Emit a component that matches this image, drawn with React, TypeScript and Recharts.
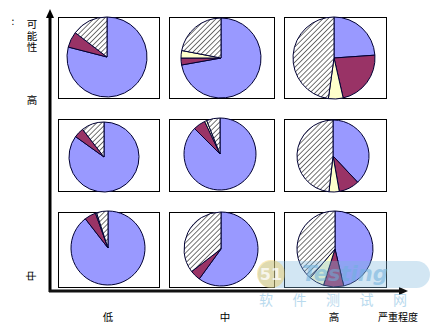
import React from 'react';
import { PieChart, Pie, Cell } from 'recharts';

// Segment names (legend not shown in the reference)
const segments = ['A', 'B', 'C', 'D'];
const segmentColors = ['#9999FF', '#993366', '#FFFFCC', 'url(#hatch)'];

// Axis labels
const severityLabels = ['低', '中', '高'];
const severityTitle = '严重程度';
const likelihoodTitle = '可能性';
const likelihoodLabels = ['高', '中'];
const watermarkText = '软件测试网';
const watermarkLogo = 'Testing';

// Values per cell (percent), order: blue, maroon, yellow, hatched
const rowTopLow = [79.0, 6.4, 0, 14.6];
const rowTopMid = [72.2, 2.8, 3.0, 22.0];
const rowTopHigh = [23.9, 22.5, 5.8, 47.8];
const rowMidLow = [84.9, 4.6, 0, 10.5];
const rowMidMid = [87.5, 5.5, 1.0, 6.0];
const rowMidHigh = [38.0, 9.2, 4.6, 48.2];
const rowBotLow = [89.5, 5.0, 0.5, 5.0];
const rowBotMid = [60.0, 4.6, 0, 35.4];
const rowBotHigh = [46.3, 8.6, 6.4, 38.7];

const cells = [
  rowTopLow, rowTopMid, rowTopHigh,
  rowMidLow, rowMidMid, rowMidHigh,
  rowBotLow, rowBotMid, rowBotHigh,
];

// layout (styles)
const boxCols = [
  [58, 159],
  [169, 274],
  [284, 386],
];
const boxRows = [
  [17, 98],
  [119, 191],
  [212, 287],
];
const pieGeom = [
  [107, 57, 40], [221, 58, 40], [334, 58, 41],
  [104, 157, 35], [220, 154, 36], [333, 156, 36],
  [108, 248, 37], [221, 249, 37], [335, 249, 38],
];

const W = 439;
const H = 327;
const font = '"Noto Sans CJK SC", sans-serif';

function Background() {
  return (
    <svg width={W} height={H} style={{ position: 'absolute', left: 0, top: 0 }}>
      <defs>
        <pattern id="hatch" patternUnits="userSpaceOnUse" width="3.6" height="3.6" patternTransform="rotate(45)">
          <rect width="3.6" height="3.6" fill="#ffffff" />
          <line x1="0" y1="0" x2="0" y2="3.6" stroke="#000" strokeWidth="1.1" />
        </pattern>
      </defs>
      <rect x={0} y={0} width={W} height={H} fill="#fff" />
      {boxRows.map(([y0, y1], ri) =>
        boxCols.map(([x0, x1], ci) => (
          <rect key={`${ri}-${ci}`} x={x0 + 0.5} y={y0 + 0.5} width={x1 - x0} height={y1 - y0} fill="#fff" stroke="#000" strokeWidth={1} />
        ))
      )}
      {/* axes */}
      <line x1={50} y1={16} x2={50} y2={292} stroke="#000" strokeWidth={3} />
      <polygon points="50,9 46,18 54,18" fill="#000" />
      <line x1={49} y1={291} x2={400} y2={291} stroke="#111" strokeWidth={3} />
      <polygon points="408,291 399,287 399,295" fill="#111" />
      {/* y labels */}
      <text x={13} y={25} fontSize={10} fontFamily={font} textAnchor="middle">:</text>
      <text x={32} y={19} fontSize={10.5} fontFamily={font} fill="#000"
        style={{ writingMode: 'vertical-rl', letterSpacing: 1 }}>{likelihoodTitle}</text>
      <text x={32} y={104} fontSize={10.5} fontFamily={font} textAnchor="middle">{likelihoodLabels[0]}</text>
      <text x={0} y={0} fontSize={10.5} fontFamily={font} textAnchor="middle" transform="translate(35,276) rotate(-90)">{likelihoodLabels[1]}</text>
      {/* x labels */}
      <text x={108} y={321} fontSize={10.5} fontFamily={font} textAnchor="middle">{severityLabels[0]}</text>
      <text x={225} y={321} fontSize={10.5} fontFamily={font} textAnchor="middle">{severityLabels[1]}</text>
      <text x={334} y={321} fontSize={10.5} fontFamily={font} textAnchor="middle">{severityLabels[2]}</text>
      <text x={398} y={321} fontSize={10} fontFamily={font} textAnchor="middle">{severityTitle}</text>
    </svg>
  );
}

function Watermark() {
  return (
    <svg width={W} height={H} style={{ position: 'absolute', left: 0, top: 0, pointerEvents: 'none' }}>
      <rect x={258} y={261} width={172} height={27} rx={13.5} fill="#7fb8dc" opacity={0.35} />
      <circle cx={271} cy={274} r={14} fill="#f2c94c" opacity={0.4} />
      <text x={271} y={280} fontSize={16} fontWeight="bold" fill="#fff" opacity={0.75} textAnchor="middle" fontFamily="DejaVu Sans">51</text>
      <text x={345} y={281} fontSize={21} fontWeight="bold" fontStyle="italic" fill="#6fb0dc" opacity={0.55} textAnchor="middle" fontFamily="DejaVu Sans">{watermarkLogo}</text>
      <text x={259} y={305} fontSize={14} fill="#8cc3e4" opacity={0.6} fontFamily={font} style={{ letterSpacing: 19.5 }}>{watermarkText}</text>
    </svg>
  );
}

export default function App() {
  return (
    <div style={{ position: 'absolute', left: 0, top: 0, width: W, height: H, background: '#fff' }}>
      <Background />
      <div style={{ position: 'absolute', left: 0, top: 0 }}>
        <PieChart width={W} height={H} margin={{ top: 0, right: 0, bottom: 0, left: 0 }}>
          {cells.map((vals, i) => {
            const data = vals
              .map((v, k) => ({ name: segments[k], value: v, fill: segmentColors[k] }))
              .filter((d) => d.value > 0);
            const [cx, cy, r] = pieGeom[i];
            return (
              <Pie
                key={i}
                data={data}
                dataKey="value"
                nameKey="name"
                cx={cx}
                cy={cy}
                outerRadius={r}
                innerRadius={0}
                startAngle={90}
                endAngle={-270}
                stroke="#000033"
                strokeWidth={1}
                isAnimationActive={false}
                labelLine={false}
                label={false}
              >
                {data.map((d, k) => (
                  <Cell key={k} fill={d.fill} />
                ))}
              </Pie>
            );
          })}
        </PieChart>
      </div>
      <Watermark />
    </div>
  );
}
